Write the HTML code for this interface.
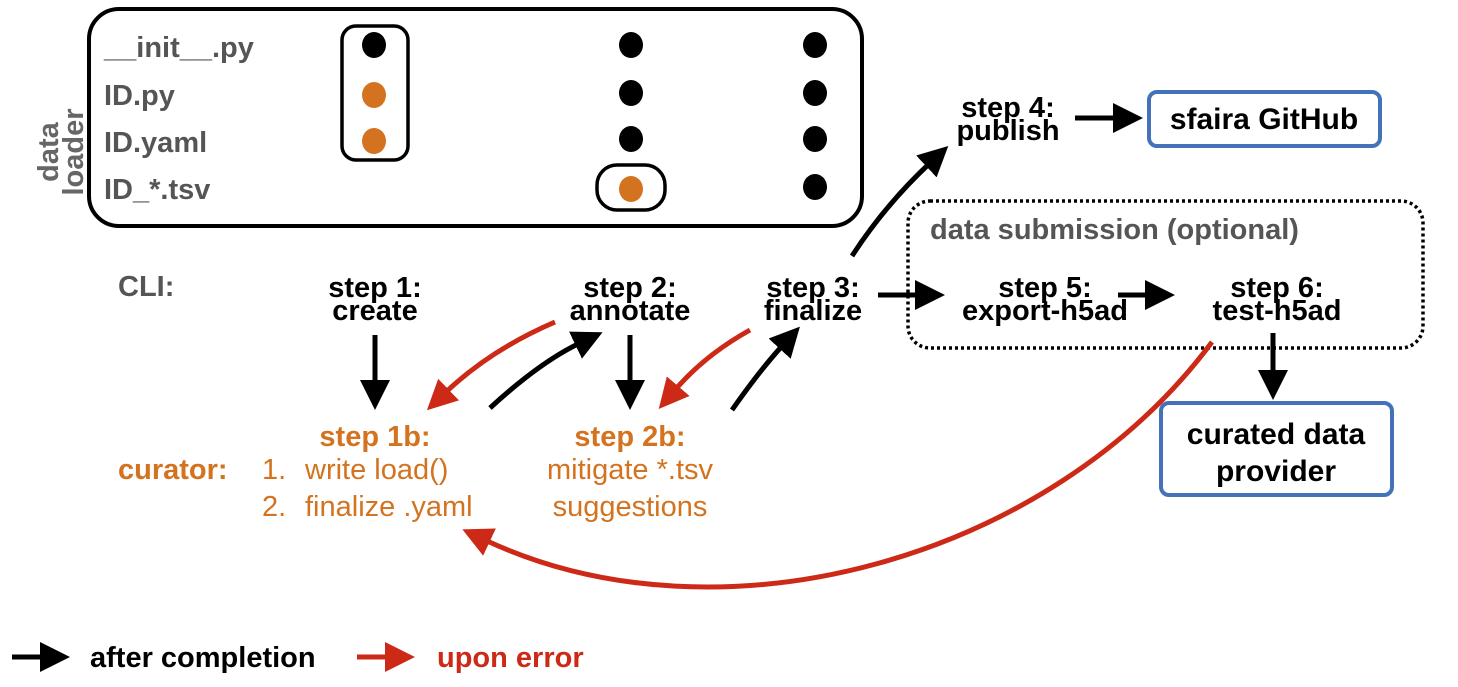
<!DOCTYPE html>
<html><head><meta charset="utf-8"><style>
html,body{margin:0;padding:0;background:#fff;}
svg{display:block;font-family:"Liberation Sans",Arial,sans-serif;font-weight:bold;}
</style></head><body>
<svg width="1458" height="687" viewBox="0 0 1458 687" xmlns="http://www.w3.org/2000/svg">
<defs>
<marker id="ab" markerWidth="6" markerHeight="6" refX="1" refY="3" orient="auto" markerUnits="strokeWidth"><path d="M0,0 L6,3 L0,6 Z" fill="#000"/></marker>
<marker id="ar" markerWidth="6" markerHeight="6" refX="1" refY="3" orient="auto" markerUnits="strokeWidth"><path d="M0,0 L6,3 L0,6 Z" fill="#cc2a17"/></marker>
</defs>
<rect x="89" y="9" width="773" height="217" rx="30" fill="none" stroke="#000" stroke-width="4"/>
<text transform="translate(58,152) rotate(-90)" text-anchor="middle" font-size="29" fill="#666"><tspan x="0" y="0">data</tspan><tspan x="0" y="25">loader</tspan></text>
<g font-size="29" fill="#555">
<text x="104" y="57">__init__.py</text>
<text x="104" y="105">ID.py</text>
<text x="104" y="152">ID.yaml</text>
<text x="104" y="199">ID_*.tsv</text>
</g>
<rect x="342" y="26" width="66" height="134" rx="14" fill="none" stroke="#000" stroke-width="3.5"/>
<rect x="597" y="165" width="68" height="45" rx="20" fill="none" stroke="#000" stroke-width="3.5"/>
<g fill="#000">
<ellipse cx="374" cy="45" rx="12" ry="13"/>
<ellipse cx="631" cy="45" rx="12" ry="13"/><ellipse cx="631" cy="93" rx="12" ry="13"/><ellipse cx="631" cy="139" rx="12" ry="13"/>
<ellipse cx="815" cy="45" rx="12" ry="13"/><ellipse cx="815" cy="93" rx="12" ry="13"/><ellipse cx="815" cy="139" rx="12" ry="13"/><ellipse cx="815" cy="187" rx="12" ry="13"/>
</g>
<g fill="#d4731f"><ellipse cx="374" cy="95" rx="12" ry="13"/><ellipse cx="374" cy="141" rx="12" ry="13"/><ellipse cx="631" cy="189" rx="12" ry="13"/></g>
<text x="118" y="296" font-size="29" fill="#555">CLI:</text>
<g font-size="29" fill="#000" text-anchor="middle">
<text x="375" y="297">step 1:</text><text x="375" y="320">create</text>
<text x="630" y="297">step 2:</text><text x="630" y="320">annotate</text>
<text x="813" y="297">step 3:</text><text x="813" y="320">finalize</text>
<text x="1045" y="297">step 5:</text><text x="1045" y="320">export-h5ad</text>
<text x="1277" y="297">step 6:</text><text x="1277" y="320">test-h5ad</text>
<text x="1008" y="117">step 4:</text><text x="1008" y="140">publish</text>
</g>
<rect x="1149" y="92" width="231" height="54" rx="8" fill="none" stroke="#4472b8" stroke-width="4"/>
<text x="1264" y="129" font-size="30" text-anchor="middle">sfaira GitHub</text>
<rect x="908" y="201" width="515" height="147" rx="22" fill="none" stroke="#000" stroke-width="3.5" stroke-dasharray="3,3"/>
<text x="930" y="239" font-size="29" fill="#555">data submission (optional)</text>
<rect x="1161" y="403" width="231" height="92" rx="8" fill="none" stroke="#4472b8" stroke-width="4"/>
<text x="1276" y="444" font-size="30" text-anchor="middle">curated data</text>
<text x="1276" y="481" font-size="30" text-anchor="middle">provider</text>
<g fill="#d4731f" font-size="29">
<text x="375" y="446" text-anchor="middle">step 1b:</text>
<text x="630" y="446" text-anchor="middle">step 2b:</text>
<text x="118" y="479">curator:</text>
</g>
<g fill="#d4731f" font-size="29" font-weight="normal">
<text x="262" y="479">1.</text><text x="305" y="479">write load()</text>
<text x="262" y="516">2.</text><text x="305" y="516">finalize .yaml</text>
<text x="630" y="479" text-anchor="middle">mitigate *.tsv</text>
<text x="630" y="516" text-anchor="middle">suggestions</text>
</g>
<g fill="none" stroke="#000" stroke-width="5">
<path d="M375,335 L375,385" marker-end="url(#ab)"/>
<path d="M630,335 L630,385" marker-end="url(#ab)"/>
<path d="M490,408 Q540,362 580,343" marker-end="url(#ab)"/>
<path d="M732,410 Q760,370 783,345" marker-end="url(#ab)"/>
<path d="M878,295 L920,295" marker-end="url(#ab)"/>
<path d="M1118,295 L1150,295" marker-end="url(#ab)"/>
<path d="M1273,333 L1273,375" marker-end="url(#ab)"/>
<path d="M852,256 Q885,205 930,163" marker-end="url(#ab)"/>
<path d="M1075,118 L1118,118" marker-end="url(#ab)"/>
</g>
<g fill="none" stroke="#cc2a17" stroke-width="5">
<path d="M555,322 Q490,350 445,393" marker-end="url(#ar)"/>
<path d="M750,330 Q705,355 675,390" marker-end="url(#ar)"/>
<path d="M1212,342 C1050,560 720,650 485,540" marker-end="url(#ar)"/>
</g>
<path d="M12,657 L45,657" stroke="#000" stroke-width="5" marker-end="url(#ab)"/>
<text x="90" y="667" font-size="29">after completion</text>
<path d="M357,657 L390,657" stroke="#cc2a17" stroke-width="5" marker-end="url(#ar)"/>
<text x="437" y="667" font-size="29" fill="#cc2a17">upon error</text>
</svg>
</body></html>
